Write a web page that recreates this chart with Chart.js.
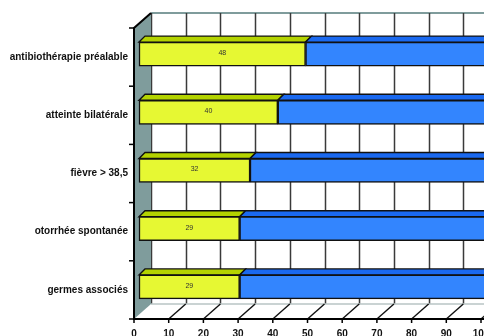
<!DOCTYPE html>
<html>
<head>
<meta charset="utf-8">
<script src="https://cdn.jsdelivr.net/npm/chart.js@4/dist/chart.umd.min.js"></script>
<style>
html,body{margin:0;padding:0;background:#fff;}
canvas{display:block;}
</style>
</head>
<body>
<canvas id="c" width="484" height="336"></canvas>
<script>
const categories = ["antibiothérapie préalable", "atteinte bilatérale", "fièvre > 38,5", "otorrhée spontanée", "germes associés"];
const yesValues = [48, 40, 32, 29, 29];
const noValues = [52, 60, 68, 71, 71];
const xTicks = [0, 10, 20, 30, 40, 50, 60, 70, 80, 90, 100];

const WALL = [17, -15];   // depth of the back plane
const BAR_SHIFT = [5, -3]; // bars sit slightly inside the depth
const BAR_DEPTH = [6, -6];
const FONT = "'Liberation Sans', Arial, sans-serif";

const threeD = {
  id: 'threeD',
  beforeDatasetsDraw(chart) {
    const ctx = chart.ctx, a = chart.chartArea;
    const xs = chart.scales.x;
    ctx.save();
    // back plane top edge
    ctx.strokeStyle = '#7f9c9c'; ctx.lineWidth = 2;
    ctx.beginPath(); ctx.moveTo(a.left + WALL[0], a.top + WALL[1]); ctx.lineTo(chart.width, a.top + WALL[1]); ctx.stroke();
    // back gridlines
    ctx.strokeStyle = '#3a3a3a'; ctx.lineWidth = 1.5;
    xTicks.forEach(v => {
      const x = Math.round(xs.getPixelForValue(v) + WALL[0]) + 0.5;
      ctx.beginPath(); ctx.moveTo(x, a.top + WALL[1]); ctx.lineTo(x, a.bottom + WALL[1]); ctx.stroke();
    });
    // floor back line
    ctx.strokeStyle = '#b9c4c4'; ctx.lineWidth = 1.5;
    ctx.beginPath(); ctx.moveTo(a.left + WALL[0], a.bottom + WALL[1]); ctx.lineTo(chart.width, a.bottom + WALL[1]); ctx.stroke();
    // floor diagonals
    ctx.strokeStyle = '#111'; ctx.lineWidth = 1.4;
    xTicks.forEach(v => {
      const x = xs.getPixelForValue(v);
      if (v === 0) return;
      ctx.beginPath(); ctx.moveTo(x, a.bottom); ctx.lineTo(x + WALL[0], a.bottom + WALL[1]); ctx.stroke();
    });
    // side wall
    ctx.fillStyle = '#7f9c9c';
    ctx.beginPath();
    ctx.moveTo(a.left, a.top);
    ctx.lineTo(a.left + WALL[0], a.top + WALL[1]);
    ctx.lineTo(a.left + WALL[0], a.bottom + WALL[1]);
    ctx.lineTo(a.left, a.bottom);
    ctx.closePath(); ctx.fill();
    // front axes
    ctx.strokeStyle = '#000'; ctx.lineWidth = 2;
    ctx.beginPath();
    ctx.moveTo(a.left + WALL[0], a.top + WALL[1]);
    ctx.lineTo(a.left, a.top);
    ctx.lineTo(a.left, a.bottom);
    ctx.lineTo(chart.width, a.bottom);
    ctx.stroke();
    ctx.lineWidth = 1.5;
    // category tick marks
    const n = categories.length;
    for (let i = 0; i <= n; i++) {
      const y = a.top + (a.bottom - a.top) * i / n;
      ctx.beginPath(); ctx.moveTo(a.left - 5, y); ctx.lineTo(a.left, y); ctx.stroke();
    }
    // value tick marks
    xTicks.forEach(v => {
      const x = xs.getPixelForValue(v);
      ctx.beginPath(); ctx.moveTo(x, a.bottom); ctx.lineTo(x, a.bottom + 4); ctx.stroke();
    });
    // bars: top faces then translate for the front faces
    const topColors = ['#b4d300', '#1a69f0'];
    chart.data.datasets.forEach((ds, di) => {
      const meta = chart.getDatasetMeta(di);
      meta.data.forEach(el => {
        const l = Math.min(el.base, el.x) + BAR_SHIFT[0];
        const r = Math.max(el.base, el.x) + BAR_SHIFT[0];
        const t = el.y - el.height / 2 + BAR_SHIFT[1];
        ctx.fillStyle = topColors[di];
        ctx.strokeStyle = '#111'; ctx.lineWidth = 1.4;
        ctx.beginPath();
        ctx.moveTo(l, t);
        ctx.lineTo(l + BAR_DEPTH[0], t + BAR_DEPTH[1]);
        ctx.lineTo(r + BAR_DEPTH[0], t + BAR_DEPTH[1]);
        ctx.lineTo(r, t);
        ctx.closePath(); ctx.fill(); ctx.stroke();
      });
    });
    ctx.restore();
    ctx.save();
    ctx.translate(BAR_SHIFT[0], BAR_SHIFT[1]);
  },
  afterDatasetsDraw(chart) {
    const ctx = chart.ctx;
    ctx.restore();
    ctx.save();
    const meta = chart.getDatasetMeta(0);
    ctx.fillStyle = '#333';
    ctx.font = '7px ' + FONT;
    ctx.textAlign = 'center'; ctx.textBaseline = 'middle';
    meta.data.forEach((el, i) => {
      const cx = (el.base + el.x) / 2 + BAR_SHIFT[0];
      const cy = el.y + BAR_SHIFT[1] - 1;
      ctx.fillText(String(yesValues[i]), cx, cy);
    });
    ctx.restore();
  }
};

new Chart(document.getElementById('c'), {
  type: 'bar',
  data: {
    labels: categories,
    datasets: [
      { data: yesValues, backgroundColor: '#e6f833', borderColor: '#111', borderWidth: 1.5, borderSkipped: false, barThickness: 24, clip: false },
      { data: noValues, backgroundColor: '#3385fe', borderColor: '#111', borderWidth: 1.5, borderSkipped: false, barThickness: 24, clip: false }
    ]
  },
  options: {
    indexAxis: 'y',
    responsive: false,
    animation: false,
    layout: { padding: { top: 28, right: 3, left: 0, bottom: 0 } },
    plugins: { legend: { display: false }, tooltip: { enabled: false } },
    scales: {
      x: {
        stacked: true, min: 0, max: 100,
        grid: { display: false, drawTicks: false },
        border: { display: false },
        ticks: { stepSize: 10, padding: 9, maxRotation: 0, autoSkip: false, color: '#111', font: { family: FONT, size: 10, weight: 'bold' } },
        afterFit(s) { s.height = 17; s.paddingLeft = 0; s.paddingRight = 0; }
      },
      y: {
        stacked: true,
        grid: { display: false, drawTicks: false },
        border: { display: false },
        ticks: { padding: 6, color: '#111', font: { family: FONT, size: 10, weight: 'bold' } },
        afterFit(s) { s.width = 134; s.paddingTop = 0; s.paddingBottom = 0; }
      }
    }
  },
  plugins: [threeD]
});
</script>
</body>
</html>
